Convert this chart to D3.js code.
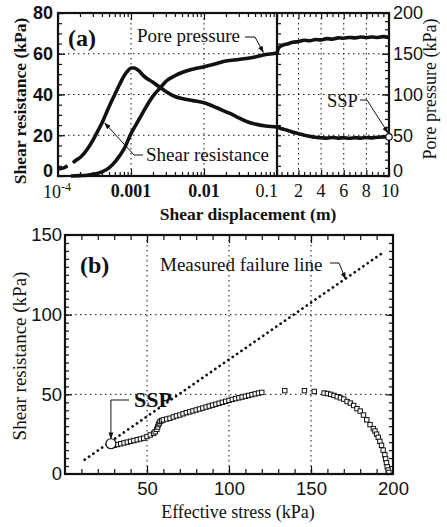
<!DOCTYPE html>
<html>
<head>
<meta charset="utf-8">
<script src="https://cdn.jsdelivr.net/npm/d3@7"></script>
<style>
  html, body { margin: 0; padding: 0; background: #fff; }
  svg { display: block; font-family: "Liberation Serif", "Times New Roman", serif; }
</style>
</head>
<body>
<svg id="chart" width="447" height="527"></svg>
<script>
// ---------- Panel (a): ring-shear record against displacement ----------
// shear resistance (kPa); null marks a gap in the early record
const shearDisp = [0.0001, 0.00012, 0.000135, 0.00015, 0.00016, 0.00018, 0.0002, 0.00025, 0.0003, 0.00035, 0.0004,
  0.0005, 0.0006, 0.0007, 0.0008, 0.0009, 0.001, 0.0011, 0.0013, 0.0015, 0.002, 0.0025, 0.003, 0.004, 0.005,
  0.007, 0.01, 0.015, 0.02, 0.025, 0.03, 0.04, 0.05, 0.07, 0.1,
  0.5, 1, 1.5, 2, 2.5, 3, 3.5, 4, 4.5, 5, 5.5, 6, 6.5, 7, 7.5, 8, 8.5, 9, 9.5, 10];
const shearRes = [3.5, 4, 5, null, 6.5, 8, 9, 13, 17.5, 22, 26,
  34, 40, 45, 49, 51.5, 53, 53, 51.5, 49, 46, 43.5, 41.5, 39, 38,
  37, 36, 33.5, 31.5, 30, 28.5, 26.5, 25.5, 24.5, 24,
  23.2, 22.5, 21.5, 20.8, 20, 19.5, 19, 18.8, 18.6, 18.9, 18.6, 18.8, 18.5, 18.8, 18.6, 18.9, 18.7, 19, 19.2, 19.2];

// pore-water pressure (kPa)
const poreDisp = [0.00015, 0.0002, 0.00025, 0.0003, 0.0004, 0.0005, 0.0006, 0.0007, 0.0008, 0.001, 0.0013, 0.0015,
  0.002, 0.0025, 0.003, 0.004, 0.005, 0.007, 0.01, 0.015, 0.02, 0.03, 0.05, 0.07, 0.1,
  0.2, 0.4, 0.7, 1, 1.5, 2, 2.5, 3, 3.5, 4, 4.5, 5, 5.5, 6, 6.5, 7, 7.5, 8, 8.5, 9, 9.5, 10];
const porePress = [0, 0.5, 1, 2, 5, 10, 17, 25, 33, 52, 70, 80,
  98, 108, 116, 123, 127, 131, 134, 138, 141, 143, 146, 149, 151,
  156, 159, 161, 162, 164, 165, 166.5, 166, 167.5, 167, 168.5, 168, 169.5, 169, 170, 169.5, 170.5, 170, 170.5, 170, 171, 170];

// steady-state point at the end of the test
const ssp = { disp: 10, shear: 19.2, stress: 28, shearB: 19 };

// axis ticks and labels, panel (a)
const logMajor = [1e-4, 1e-3, 1e-2, 1e-1];
const logLabels = ["10", "0.001", "0.01", "0.1"];
const linMajor = [2, 4, 6, 8, 10];
const linLabels = ["2", "4", "6", "8", "10"];
const shearTicks = [0, 20, 40, 60, 80];
const poreTicks = [0, 50, 100, 150, 200];

// ---------- Panel (b): effective stress path ----------
const pathStress = [30, 32, 34, 36, 38, 40, 42, 44, 46, 48, 50, 52, 54, 55, 56, 56.5, 57, 57.5, 58, 59, 60,
  62, 64, 66, 68, 70, 72, 74, 76, 78, 80, 82, 84, 86, 88, 90, 92, 94, 96, 98, 100, 102, 104, 106, 108, 110,
  112, 114, 116, 118, 120, 134, 146, 152, 158, 160, 162, 164, 166, 168, 170, 172, 174, 176, 178, 180, 182,
  184, 186, 188, 189, 190, 191, 192, 193, 194, 195, 195.5, 196, 196.5, 197, 197.5];
const pathShear = [18, 18.5, 19, 19.5, 20, 20.5, 21, 21.5, 22, 22.5, 23.5, 24.5, 25.5, 26.5, 28, 29.5, 31, 32, 33, 33.5, 34,
  34.5, 35, 35.8, 36.5, 37, 37.8, 38.5, 39, 39.6, 40.2, 40.8, 41.4, 42, 42.6, 43.2, 43.8, 44.4, 45, 45.6, 46.2, 46.8, 47.3, 47.8, 48.3, 48.8,
  49.3, 49.8, 50.3, 50.8, 51.2, 52.3, 52.3, 51.8, 50.8, 50.5, 50, 49.3, 48.5, 47.8, 47, 45.5, 44.5, 43, 41, 39.5, 37,
  34, 31, 28.5, 27, 25, 23, 20.5, 18, 15, 12, 9.5, 7, 4.5, 2.5, 1];

// measured failure line (end points)
const failStress = [12, 194];
const failShear = [9, 139];

const stressTicks = [50, 100, 150, 200];
const resTicksB = [0, 50, 100, 150];

// ---------- drawing ----------
const svg = d3.select("#chart");
const ink = "#111";

const defs = svg.append("defs");
defs.append("marker").attr("id", "arrow")
  .attr("viewBox", "0 0 10 10").attr("refX", 9).attr("refY", 5)
  .attr("markerWidth", 7).attr("markerHeight", 7).attr("orient", "auto")
  .append("path").attr("d", "M0,1.5 L10,5 L0,8.5 Z").attr("fill", ink);

// scales, panel (a)
const xLogA = d3.scaleLog().domain([1e-4, 0.1]).range([58, 277]);
const xLinA = d3.scaleLinear().domain([0.1, 10]).range([277, 389]);
const xA = d => (d <= 0.1 ? xLogA(d) : xLinA(d));
const yShearA = d3.scaleLinear().domain([0, 80]).range([176, 13]);
const yPoreA = d3.scaleLinear().domain([0, 200]).range([176, 13]);

// scales, panel (b)
const xB = d3.scaleLinear().domain([0, 200]).range([65, 393]);
const yB = d3.scaleLinear().domain([0, 150]).range([474, 235]);

function grid(g, x1, y1, x2, y2) {
  g.append("line").attr("x1", x1).attr("y1", y1).attr("x2", x2).attr("y2", y2)
    .attr("stroke", ink).attr("stroke-width", 1).attr("stroke-dasharray", "1.5,3.5");
}

function styleAxis(g) {
  g.select(".domain").remove();
  g.selectAll(".tick line").attr("stroke", ink).attr("stroke-width", 1.2);
  g.selectAll("text").attr("font-family", null).attr("fill", ink);
}

// ===== Panel (a) =====
const pa = svg.append("g");

// gridlines
[20, 40, 60].forEach(v => grid(pa, 58, yShearA(v), 389, yShearA(v)));
[1e-3, 1e-2].forEach(v => grid(pa, xLogA(v), 13, xLogA(v), 176));
[2, 4, 6, 8].forEach(v => grid(pa, xLinA(v), 13, xLinA(v), 176));

// log-scale minor ticks (2..9 per decade)
const logMinor = [];
logMajor.slice(0, 3).forEach(m => { for (let k = 2; k <= 9; k++) logMinor.push(m * k); });
const linMinor = d3.range(0.5, 10, 0.5).filter(v => !linMajor.includes(v) && v > 0.1);

[[176, d3.axisBottom], [13, d3.axisTop]].forEach(([yPos, axisFn]) => {
  pa.append("g").attr("transform", `translate(0,${yPos})`)
    .call(axisFn(xLogA).tickValues(logMinor).tickSizeInner(-4).tickSizeOuter(0).tickFormat(""))
    .call(styleAxis);
  pa.append("g").attr("transform", `translate(0,${yPos})`)
    .call(axisFn(xLogA).tickValues(logMajor).tickSizeInner(-7).tickSizeOuter(0).tickFormat(""))
    .call(styleAxis);
  pa.append("g").attr("transform", `translate(0,${yPos})`)
    .call(axisFn(xLinA).tickValues(linMinor).tickSizeInner(-4).tickSizeOuter(0).tickFormat(""))
    .call(styleAxis);
  pa.append("g").attr("transform", `translate(0,${yPos})`)
    .call(axisFn(xLinA).tickValues(linMajor).tickSizeInner(-6).tickSizeOuter(0).tickFormat(""))
    .call(styleAxis);
});

// left axis: shear resistance
pa.append("g").attr("transform", "translate(58,0)")
  .call(d3.axisLeft(yShearA).tickValues(d3.range(0, 81, 5)).tickSizeInner(-4).tickSizeOuter(0).tickFormat(""))
  .call(styleAxis);
pa.append("g").attr("transform", "translate(58,0)")
  .call(d3.axisLeft(yShearA).tickValues(shearTicks).tickSizeInner(-7).tickSizeOuter(0).tickPadding(5))
  .call(styleAxis)
  .selectAll("text").attr("font-size", 18).attr("font-weight", "bold")
  .attr("dy", d => (d === 0 ? "0.05em" : "0.32em"));

// ticks on the scale break, facing the right-hand part
pa.append("g").attr("transform", "translate(277,0)")
  .call(d3.axisRight(yShearA).tickValues(d3.range(5, 80, 5)).tickSizeInner(4).tickSizeOuter(0).tickFormat(""))
  .call(styleAxis);

// right axis: pore pressure
pa.append("g").attr("transform", "translate(389,0)")
  .call(d3.axisRight(yPoreA).tickValues(d3.range(0, 201, 10)).tickSizeInner(-4).tickSizeOuter(0).tickFormat(""))
  .call(styleAxis);
pa.append("g").attr("transform", "translate(389,0)")
  .call(d3.axisRight(yPoreA).tickValues(poreTicks).tickSizeInner(-7).tickSizeOuter(0).tickPadding(4))
  .call(styleAxis)
  .selectAll("text").attr("font-size", 18)
  .attr("dy", d => (d === 0 ? "0.05em" : "0.32em"));

// bottom tick labels
const botA = pa.append("g").attr("font-size", 18).attr("fill", ink);
const labY = 197;
logMajor.forEach((v, i) => {
  if (i === 0) {
    const t = botA.append("text").attr("x", xLogA(v) - 1).attr("y", labY + 1).attr("text-anchor", "middle");
    t.append("tspan").text(logLabels[i]);
    t.append("tspan").attr("dy", -7).attr("font-size", 12).text("-4");
  } else if (i === 3) {
    botA.append("text").attr("x", xLogA(v) + 1).attr("y", labY).attr("text-anchor", "end").text(logLabels[i]);
  } else {
    botA.append("text").attr("x", xLogA(v)).attr("y", labY).attr("text-anchor", "middle")
      .attr("font-weight", "bold").text(logLabels[i]);
  }
});
linMajor.forEach((v, i) => {
  botA.append("text").attr("x", xLinA(v) + (v === 10 ? 1 : 0)).attr("y", labY).attr("text-anchor", "middle").text(linLabels[i]);
});

// curves
const lineShear = d3.line()
  .defined((d, i) => shearRes[i] !== null)
  .x(d => xA(d)).y((d, i) => yShearA(shearRes[i]))
  .curve(d3.curveMonotoneX);
pa.append("path").attr("d", lineShear(shearDisp))
  .attr("fill", "none").attr("stroke", ink).attr("stroke-width", 3.6).attr("stroke-linejoin", "round");

const linePore = d3.line()
  .x(d => xA(d)).y((d, i) => yPoreA(porePress[i]))
  .curve(d3.curveMonotoneX);
pa.append("path").attr("d", linePore(poreDisp))
  .attr("fill", "none").attr("stroke", ink).attr("stroke-width", 3.6).attr("stroke-linejoin", "round");

// frame and scale break
pa.append("rect").attr("x", 58).attr("y", 13).attr("width", 389 - 58).attr("height", 176 - 13)
  .attr("fill", "none").attr("stroke", ink).attr("stroke-width", 2.2);
pa.append("line").attr("x1", 277).attr("x2", 277).attr("y1", 13).attr("y2", 176)
  .attr("stroke", ink).attr("stroke-width", 2.2);

// steady-state point
pa.append("circle").attr("cx", xA(ssp.disp)).attr("cy", yShearA(ssp.shear)).attr("r", 3.2)
  .attr("fill", "#fff").attr("stroke", ink).attr("stroke-width", 1.2);

// annotations
pa.append("text").attr("x", 68).attr("y", 46).attr("font-size", 24).attr("font-weight", "bold").attr("fill", ink).text("(a)");
pa.append("text").attr("x", 137).attr("y", 42).attr("font-size", 19).attr("fill", ink).text("Pore pressure");
pa.append("text").attr("x", 146).attr("y", 161).attr("font-size", 19).attr("fill", ink).text("Shear resistance");
pa.append("text").attr("x", 327).attr("y", 107).attr("font-size", 18.5).attr("fill", ink).text("SSP");

function leader(g, pts) {
  g.append("path").attr("d", d3.line()(pts)).attr("fill", "none")
    .attr("stroke", ink).attr("stroke-width", 1).attr("marker-end", "url(#arrow)");
}
leader(pa, [[245, 37], [255, 37], [xA(0.065), yPoreA(148) - 3]]);
leader(pa, [[143, 155], [134, 155], [xA(0.00041) + 2, yShearA(27) + 2]]);
leader(pa, [[360, 100], [367, 100], [xA(ssp.disp) - 1, yShearA(ssp.shear) - 4]]);

// axis titles
pa.append("text").attr("x", 248).attr("y", 220).attr("text-anchor", "middle")
  .attr("font-size", 17.5).attr("font-weight", "bold").attr("fill", ink).text("Shear displacement (m)");
pa.append("text").attr("transform", "translate(26,101) rotate(-90)").attr("text-anchor", "middle")
  .attr("font-size", 17.5).attr("font-weight", "bold").attr("fill", ink).text("Shear resistance (kPa)");
pa.append("text").attr("transform", "translate(436,89) rotate(-90)").attr("text-anchor", "middle")
  .attr("font-size", 18).attr("fill", ink).text("Pore pressure (kPa)");

// ===== Panel (b) =====
const pb = svg.append("g");

[50, 100].forEach(v => grid(pb, 65, yB(v), 393, yB(v)));
[50, 100, 150].forEach(v => grid(pb, xB(v), 235, xB(v), 474));

[[474, d3.axisBottom], [235, d3.axisTop]].forEach(([yPos, axisFn]) => {
  pb.append("g").attr("transform", `translate(0,${yPos})`)
    .call(axisFn(xB).tickValues(d3.range(10, 200, 10)).tickSizeInner(-5).tickSizeOuter(0).tickFormat(""))
    .call(styleAxis);
  pb.append("g").attr("transform", `translate(0,${yPos})`)
    .call(axisFn(xB).tickValues([50, 100, 150]).tickSizeInner(-8).tickSizeOuter(0).tickFormat(""))
    .call(styleAxis);
});
[[65, d3.axisLeft], [393, d3.axisRight]].forEach(([xPos, axisFn]) => {
  pb.append("g").attr("transform", `translate(${xPos},0)`)
    .call(axisFn(yB).tickValues(d3.range(5, 150, 5)).tickSizeInner(-4).tickSizeOuter(0).tickFormat(""))
    .call(styleAxis);
  pb.append("g").attr("transform", `translate(${xPos},0)`)
    .call(axisFn(yB).tickValues([50, 100]).tickSizeInner(-7).tickSizeOuter(0).tickFormat(""))
    .call(styleAxis);
});

// tick labels
pb.append("g").attr("transform", "translate(65,0)")
  .call(d3.axisLeft(yB).tickValues(resTicksB).tickSize(0).tickPadding(3))
  .call(styleAxis)
  .selectAll("text").attr("font-size", 18.5);
pb.append("g").attr("transform", "translate(0,474)")
  .call(d3.axisBottom(xB).tickValues(stressTicks).tickSize(0).tickPadding(8))
  .call(styleAxis)
  .selectAll("text").attr("font-size", 18.5);

// measured failure line (dotted)
pb.append("path")
  .attr("d", d3.line().x(d => xB(d)).y((d, i) => yB(failShear[i]))(failStress))
  .attr("fill", "none").attr("stroke", ink).attr("stroke-width", 2.7)
  .attr("stroke-linecap", "round").attr("stroke-dasharray", "0.1,5.2");

// effective stress path
pb.append("g").selectAll("rect").data(pathStress).join("rect")
  .attr("x", d => xB(d) - 2.2).attr("y", (d, i) => yB(pathShear[i]) - 2.2)
  .attr("width", 4.4).attr("height", 4.4)
  .attr("fill", "#fff").attr("stroke", ink).attr("stroke-width", 1);

// frame
pb.append("rect").attr("x", 65).attr("y", 235).attr("width", 393 - 65).attr("height", 474 - 235)
  .attr("fill", "none").attr("stroke", ink).attr("stroke-width", 2.2);

// steady-state point
const sspX = xB(ssp.stress), sspY = yB(ssp.shearB);
pb.append("circle").attr("cx", sspX).attr("cy", sspY).attr("r", 5)
  .attr("fill", "#fff").attr("stroke", ink).attr("stroke-width", 1.2);

// annotations
pb.append("text").attr("x", 80).attr("y", 273).attr("font-size", 24).attr("font-weight", "bold").attr("fill", ink).text("(b)");
pb.append("text").attr("x", 160).attr("y", 271).attr("font-size", 19).attr("fill", ink).text("Measured failure line");
leader(pb, [[330, 263], [339, 263], [xB(171), yB(0.714 * 171 + 0.4)]]);
pb.append("text").attr("x", 134).attr("y", 407).attr("font-size", 22).attr("font-weight", "bold").attr("fill", ink).text("SSP");
leader(pb, [[129, 400], [sspX, 400], [sspX, sspY - 5]]);

pb.append("text").attr("x", 238).attr("y", 518).attr("text-anchor", "middle")
  .attr("font-size", 18).attr("fill", ink).text("Effective stress (kPa)");
pb.append("text").attr("transform", "translate(26,356) rotate(-90)").attr("text-anchor", "middle")
  .attr("font-size", 19).attr("fill", ink).text("Shear resistance (kPa)");
</script>
</body>
</html>
